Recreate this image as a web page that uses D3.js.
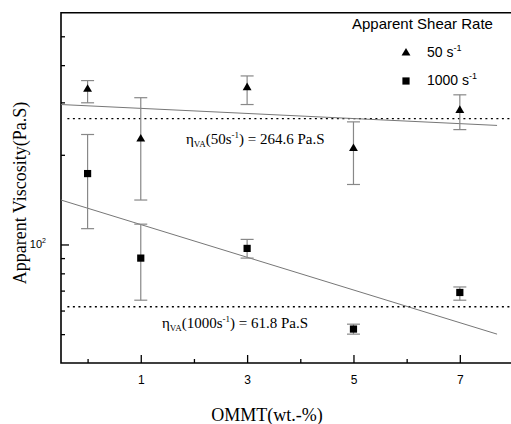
<!DOCTYPE html>
<html>
<head>
<meta charset="utf-8">
<script src="https://cdn.jsdelivr.net/npm/d3@7"></script>
<style>
  body { margin: 0; background: #fff; }
  svg { display: block; }
</style>
</head>
<body>
<div id="chart"></div>
<script>
// OMMT content (wt.-%)
var doses = [0, 1, 3, 5, 7];
// 50 s^-1 series
var visc50 = [332, 226, 336, 210, 282];
var hi50 = [355, 311, 368, 258, 318];
var lo50 = [299, 141, 295, 159, 243];
// 1000 s^-1 series
var visc1000 = [173, 90, 97, 52, 69];
var hi1000 = [234, 117, 104, 54, 72];
var lo1000 = [113, 65, 90, 50, 65];
// fitted lines (end points) and averages
var fitX = [-0.5, 7.7];
var fit50 = [295, 251];
var fit1000 = [141, 50];
var means = [264.6, 61.8];
var xTicks = [1, 3, 5, 7];
var xMinor = [0, 2, 4, 6];
var yMinor = [50, 60, 70, 80, 90, 200, 300, 400, 500];

var width = 511, height = 424;
var svg = d3.select("#chart").append("svg")
  .attr("width", width).attr("height", height);

var x = d3.scaleLinear().domain([-0.5, 8]).range([61, 513]);
var y = d3.scaleLog().domain([40, 600]).range([363, 12.7]);

var serif = "'Liberation Serif', 'Times New Roman', serif";
var sans = "'Liberation Sans', Arial, sans-serif";

// frame
svg.append("path")
  .attr("d", "M" + x(8.2) + "," + y(600) + "H" + x(-0.5) + "V" + y(40) + "H" + x(8.2))
  .attr("fill", "none").attr("stroke", "#000").attr("stroke-width", 1.6);

// x axis ticks (inside)
var xAxis = svg.append("g").attr("transform", "translate(0," + y(40) + ")");
xAxis.call(d3.axisBottom(x).tickValues(xTicks).tickSizeInner(-8).tickSizeOuter(0).tickPadding(10));
xAxis.append("g").call(d3.axisBottom(x).tickValues(xMinor).tickSizeInner(-4).tickSizeOuter(0).tickFormat(""));
xAxis.selectAll(".domain").remove();
xAxis.selectAll("line").attr("stroke", "#000").attr("stroke-width", 1.3);
xAxis.selectAll("text").attr("font-family", sans).attr("font-size", 12).attr("fill", "#000").attr("dy", "0.9em");

// y axis ticks (inside)
var yAxis = svg.append("g").attr("transform", "translate(" + x(-0.5) + ",0)");
yAxis.call(d3.axisLeft(y).tickValues([100]).tickSizeInner(-8).tickSizeOuter(0).tickFormat(""));
yAxis.append("g").call(d3.axisLeft(y).tickValues(yMinor).tickSizeInner(-4).tickSizeOuter(0).tickFormat(""));
yAxis.selectAll(".domain").remove();
yAxis.selectAll("line").attr("stroke", "#000").attr("stroke-width", 1.3);

var lbl = svg.append("text")
  .attr("x", 46).attr("y", y(100) + 4)
  .attr("text-anchor", "end")
  .attr("font-family", sans).attr("font-size", 11);
lbl.append("tspan").text("10");
lbl.append("tspan").attr("font-size", 7).attr("dy", -5).text("2");

// axis titles
svg.append("text")
  .attr("transform", "translate(26," + 193 + ") rotate(-90)")
  .attr("text-anchor", "middle")
  .attr("font-family", serif).attr("font-size", 18)
  .text("Apparent Viscosity(Pa.S)");

svg.append("text")
  .attr("x", 267).attr("y", 421)
  .attr("text-anchor", "middle")
  .attr("font-family", serif).attr("font-size", 18)
  .text("OMMT(wt.-%)");

// average dotted lines
svg.selectAll(".mean")
  .data(means)
  .enter().append("line")
  .attr("class", "mean")
  .attr("x1", x(-0.38)).attr("x2", x(8))
  .attr("y1", d => y(d)).attr("y2", d => y(d))
  .attr("stroke", "#000").attr("stroke-width", 1.3)
  .attr("stroke-dasharray", "2,3.5");

// fitted lines
var fitLine = d3.line().x((d, i) => x(fitX[i])).y(d => y(d));
[fit50, fit1000].forEach(function(f) {
  svg.append("path").attr("d", fitLine(f))
    .attr("fill", "none").attr("stroke", "#777").attr("stroke-width", 1);
});

// error bars
function errorBars(hi, lo) {
  var g = svg.append("g").attr("stroke", "#888").attr("stroke-width", 1.2);
  doses.forEach(function(d, i) {
    g.append("line").attr("x1", x(d)).attr("x2", x(d)).attr("y1", y(hi[i])).attr("y2", y(lo[i]));
    g.append("line").attr("x1", x(d) - 6.5).attr("x2", x(d) + 6.5).attr("y1", y(hi[i])).attr("y2", y(hi[i]));
    g.append("line").attr("x1", x(d) - 6.5).attr("x2", x(d) + 6.5).attr("y1", y(lo[i])).attr("y2", y(lo[i]));
  });
}
errorBars(hi50, lo50);
errorBars(hi1000, lo1000);

var tri = d3.symbol().type(d3.symbolTriangle).size(34);
var sq = d3.symbol().type(d3.symbolSquare).size(52);

svg.selectAll(".tri")
  .data(visc50)
  .enter().append("path")
  .attr("class", "tri")
  .attr("d", tri)
  .attr("transform", (d, i) => "translate(" + x(doses[i]) + "," + y(d) + ")")
  .attr("fill", "#000");

svg.selectAll(".sq")
  .data(visc1000)
  .enter().append("path")
  .attr("class", "sq")
  .attr("d", sq)
  .attr("transform", (d, i) => "translate(" + x(doses[i]) + "," + y(d) + ")")
  .attr("fill", "#000");

// legend
svg.append("text")
  .attr("x", 352).attr("y", 29)
  .attr("font-family", sans).attr("font-size", 15)
  .text("Apparent Shear Rate");

var legendRows = [{ sym: tri, label: "50 s", y: 57 }, { sym: sq, label: "1000 s", y: 85 }];
legendRows.forEach(function(r) {
  svg.append("path").attr("d", r.sym)
    .attr("transform", "translate(406," + (r.y - 4) + ")")
    .attr("fill", "#000");
  var t = svg.append("text")
    .attr("x", 427).attr("y", r.y)
    .attr("font-family", sans).attr("font-size", 14);
  t.append("tspan").text(r.label);
  t.append("tspan").attr("font-size", 9).attr("dy", -6).text("-1");
});

// annotations
function note(xp, yp, rate, val) {
  var t = svg.append("text")
    .attr("x", xp).attr("y", yp)
    .attr("font-family", serif).attr("font-size", 15);
  t.append("tspan").text("\u03b7");
  t.append("tspan").attr("font-size", 9).attr("dy", 3).text("VA");
  t.append("tspan").attr("dy", -3).text("(" + rate + "s");
  t.append("tspan").attr("font-size", 9).attr("dy", -6).text("-1");
  t.append("tspan").attr("dy", 6).text(") = " + val + " Pa.S");
}
note(186, 144, "50", means[0]);
note(162, 328, "1000", means[1]);
</script>
</body>
</html>
